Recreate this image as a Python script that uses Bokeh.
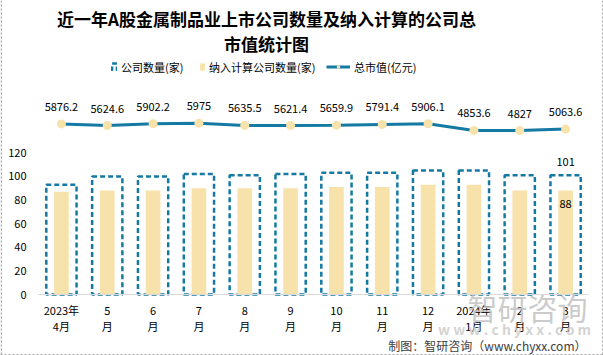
from bokeh.plotting import figure
from bokeh.models import (ColumnDataSource, Range1d, FixedTicker, LinearAxis,
                          Label, Legend, LegendItem, Span)
from bokeh.core.properties import value
from bokeh.embed import file_html
from bokeh.resources import INLINE

# ---------------- data ----------------
month_line1 = ["2023年", "5", "6", "7", "8", "9", "10", "11", "12", "2024年", "2", "3"]
month_line2 = ["4月", "月", "月", "月", "月", "月", "月", "月", "月", "1月", "月", "月"]
companies = [93, 100, 100, 102, 101, 102, 103, 103, 105, 105, 101, 101]
included = [87, 88, 88, 90, 90, 90, 91, 91, 93, 93, 88, 88]
market_value = [5876.2, 5624.6, 5902.2, 5975, 5635.5, 5621.4,
                5659.9, 5791.4, 5906.1, 4853.6, 4827, 5063.6]
y_ticks = [0, 20, 40, 60, 80, 100, 120]

title_line1 = "近一年A股金属制品业上市公司数量及纳入计算的公司总"
title_line2 = "市值统计图"
legend_labels = ["公司数量(家)", "纳入计算公司数量(家)", "总市值(亿元)"]
footer = "制图：智研咨询（www.chyxx.com）"

# ---------------- style / geometry ----------------
FONT = "Noto Sans CJK SC"
BLUE = "#1479a3"
BEIGE = "#f8e2ab"

W, H = 603, 355
N = len(month_line1)
PX_X = 550 / N          # px per category
PX_Y = 1.181            # px per count unit
X0 = -(60.92 / PX_X)    # data x at left canvas edge
Y0_PX = 294             # canvas y (from top) of value 0

x_start, x_end = X0, X0 + W / PX_X
y_start, y_end = -(H - Y0_PX) / PX_Y, Y0_PX / PX_Y

# canvas-pixel -> data helpers (for text annotations only)
def xd(px):
    return px / PX_X + X0

def yd(py):
    return (Y0_PX - py) / PX_Y

idx = list(range(N))
src = ColumnDataSource(dict(
    x=idx, companies=companies, included=included, mv=market_value,
    mv_label=[f"{v:g}" for v in market_value],
))
last = ColumnDataSource(dict(
    x=[idx[-1]], companies=[companies[-1]], included=[included[-1]],
    c_label=[str(companies[-1])], i_label=[str(included[-1])],
))

p = figure(width=W, height=H, x_range=Range1d(x_start, x_end),
           y_range=Range1d(y_start, y_end), output_backend="svg",
           toolbar_location=None, x_axis_type=None, y_axis_type=None,
           min_border_left=0, min_border_right=0, min_border_top=0,
           min_border_bottom=0)
p.extra_y_ranges = {"mv": Range1d(-30537, 25280)}
p.xgrid.visible = False
p.ygrid.visible = False
p.outline_line_color = None
p.background_fill_color = "white"
p.border_fill_color = "white"

box = p.vbar(x="x", top="companies", bottom=0, width=0.66, source=src,
             fill_alpha=0, line_color=BLUE, line_width=2.5, line_dash="5 3")
bar = p.vbar(x="x", top="included", width=0.32, source=src,
             fill_color=BEIGE, line_color=None)
ln = p.line(x="x", y="mv", y_range_name="mv", source=src,
            line_color=BLUE, line_width=3)
pts = p.scatter(x="x", y="mv", y_range_name="mv", source=src, size=9,
                fill_color=BEIGE, line_color=None)

p.text(x="x", y="mv", text="mv_label", y_range_name="mv", source=src,
       y_offset=-17, text_align="center", text_baseline="middle",
       text_font=value(FONT), text_font_size="11px", text_color="#000000")
p.text(x="x", y="companies", text="c_label", source=last,
       y_offset=-13, text_align="center", text_baseline="middle",
       text_font=value(FONT), text_font_size="11px", text_color="#000000")
p.text(x="x", y="included", text="i_label", source=last,
       y_offset=13, text_align="center", text_baseline="middle",
       text_font=value(FONT), text_font_size="11px", text_color="#000000")

# ---------------- axes ----------------
def style_axis(ax):
    ax.major_tick_line_color = None
    ax.minor_tick_line_color = None
    ax.major_tick_out = 0
    ax.major_tick_in = 0
    ax.minor_tick_out = 0
    ax.minor_tick_in = 0
    ax.major_label_text_font = FONT
    ax.major_label_text_font_size = "11px"
    ax.major_label_text_color = "#000000"

xa1 = LinearAxis(ticker=FixedTicker(ticks=idx), fixed_location=0,
                 major_label_overrides={i: t for i, t in zip(idx, month_line1)},
                 bounds=(idx[0] - 0.5, idx[-1] + 0.5),
                 axis_line_color="#d9d9d9", axis_line_width=1,
                 major_label_standoff=7)
style_axis(xa1)
xa2 = LinearAxis(ticker=FixedTicker(ticks=idx), fixed_location=0,
                 major_label_overrides={i: t for i, t in zip(idx, month_line2)},
                 axis_line_color=None, major_label_standoff=23)
style_axis(xa2)
p.add_layout(xa2, "below")
p.add_layout(xa1, "below")

ya = LinearAxis(ticker=FixedTicker(ticks=y_ticks), fixed_location=idx[0] - 0.5,
                axis_line_color=None, major_label_standoff=12)
style_axis(ya)
p.add_layout(ya, "left")

# ---------------- legends ----------------
def make_legend(label, renderers, px, gw):
    lg = Legend(items=[LegendItem(label=label, renderers=renderers)],
                location=(px, H - 67.5 - 7), orientation="horizontal",
                glyph_width=gw, glyph_height=9, label_standoff=4,
                label_height=14, label_text_font=FONT,
                label_text_font_size="11px", label_text_color="#000000",
                border_line_color=None, background_fill_alpha=0,
                padding=0, margin=0, spacing=0)
    p.add_layout(lg)

make_legend(legend_labels[0], [box], 111, 6)
make_legend(legend_labels[1], [bar], 199, 6)
make_legend(legend_labels[2], [ln, pts], 326, 24)

# ---------------- titles ----------------
for txt, py in [(title_line1, 18), (title_line2, 42.5)]:
    p.add_layout(Label(x=xd(266), y=yd(py), text=txt, text_align="center",
                       text_baseline="middle", text_font=FONT,
                       text_font_size="17px", text_font_style="bold",
                       text_color="#000000"))

# ---------------- watermark ----------------
p.add_layout(Label(x=xd(527), y=yd(306), text="智研咨询", text_align="center",
                   text_baseline="middle", text_font=FONT, text_font_size="30px",
                   text_color="#c2c2c2", text_alpha=0.85))
p.add_layout(Label(x=xd(514), y=yd(328), text="w w w . c h y x x . c o m",
                   text_align="center", text_baseline="middle", text_font=FONT,
                   text_font_size="14px", text_font_style="bold",
                   text_color="#cccccc", text_alpha=0.85))

# ---------------- footer ----------------
p.add_layout(Label(x=xd(586), y=yd(345), text=footer, text_align="right",
                   text_baseline="middle", text_font=FONT, text_font_size="12px",
                   text_color="#404040"))

# ---------------- dashed page border ----------------
for loc, dim in [(xd(0.75), "height"), (xd(602.25), "height")]:
    p.add_layout(Span(location=loc, dimension=dim, line_color="#a6a6a6",
                      line_width=1.5, line_dash="2 2"))
p.add_layout(Span(location=yd(354.25), dimension="width", line_color="#a6a6a6",
                  line_width=1.5, line_dash="2 2"))

open("out.html", "w").write(file_html(p, INLINE))
